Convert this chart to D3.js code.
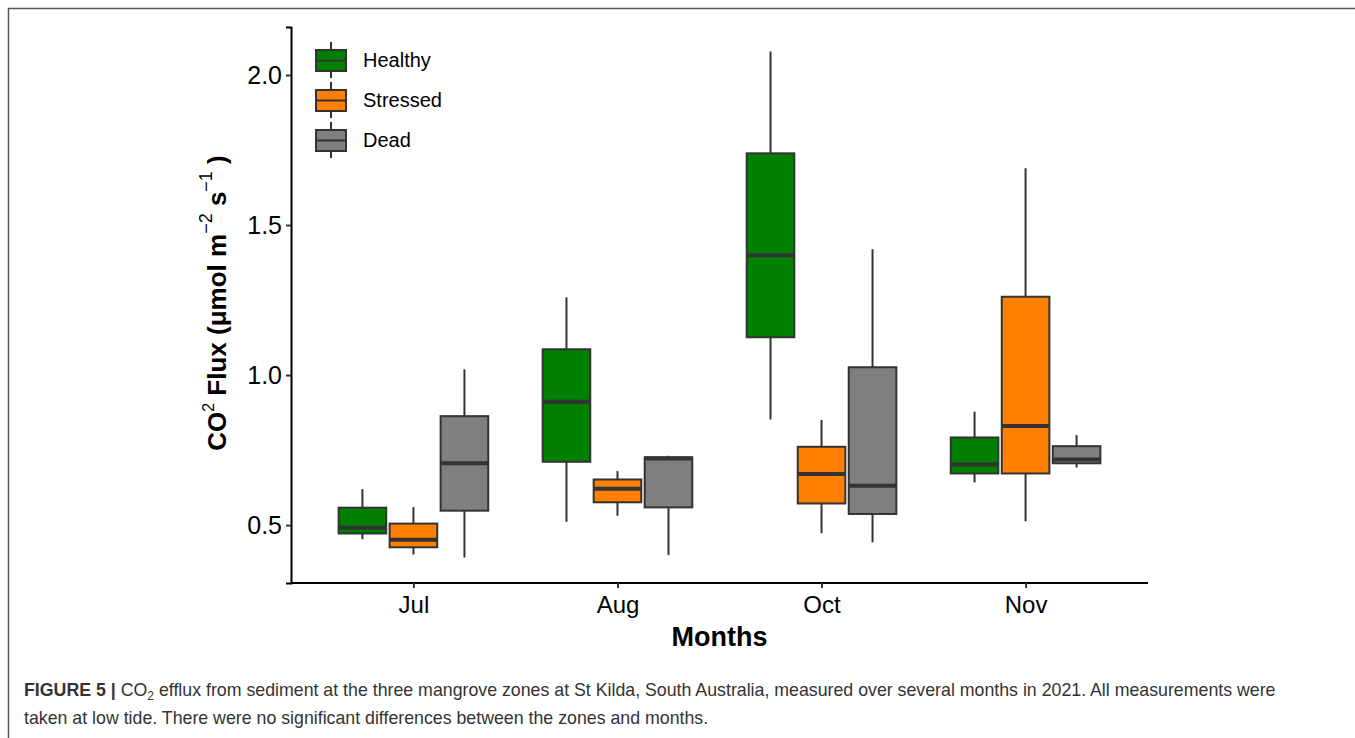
<!DOCTYPE html>
<html>
<head>
<meta charset="utf-8">
<script src="https://cdn.jsdelivr.net/npm/d3@7"></script>
<style>
  body { margin: 0; background: #fff; }
  svg text { font-family: "Liberation Sans", Arial, sans-serif; }
</style>
</head>
<body>
<div id="canvas"></div>
<script>
// data: [whiskerLow, q1, median, q3, whiskerHigh]
const months = ["Jul", "Aug", "Oct", "Nov"];
const zones = ["Healthy", "Stressed", "Dead"];
const colors = ["#007f00", "#ff7f00", "#7f7f7f"];
const yTicks = [0.5, 1.0, 1.5, 2.0];

const healthy = [
  [0.453, 0.472, 0.491, 0.558, 0.62],
  [0.511, 0.711, 0.911, 1.086, 1.259],
  [0.852, 1.126, 1.399, 1.739, 2.078],
  [0.642, 0.672, 0.702, 0.792, 0.878]
];
const stressed = [
  [0.402, 0.426, 0.451, 0.505, 0.56],
  [0.531, 0.576, 0.621, 0.652, 0.68],
  [0.473, 0.572, 0.67, 0.761, 0.85],
  [0.513, 0.672, 0.83, 1.261, 1.689]
];
const dead = [
  [0.392, 0.548, 0.706, 0.863, 1.019],
  [0.40, 0.559, 0.722, 0.726, 0.731],
  [0.443, 0.537, 0.631, 1.026, 1.419],
  [0.692, 0.706, 0.719, 0.763, 0.80]
];
const seriesValues = [healthy, stressed, dead];

const width = 1355, height = 738;
const margin = { top: 27, left: 291, bottom: 155, right: 207 };
const iwidth = width - margin.left - margin.right;
const iheight = height - margin.top - margin.bottom;

const svg = d3.select("#canvas").append("svg")
  .attr("width", width)
  .attr("height", height);

// figure frame (open on right / bottom as in the page crop)
svg.append("path")
  .attr("d", `M8.5,${height} V8.5 H${width}`)
  .attr("fill", "none")
  .attr("stroke", "#555")
  .attr("stroke-width", 1.5);

const g = svg.append("g").attr("transform", `translate(${margin.left},${margin.top})`);

const y = d3.scaleLinear().domain([0.307, 2.16]).range([iheight, 0]);

// ggplot-like discrete scale: 0.6 unit expansion on each side
const unit = iwidth / (months.length - 1 + 1.2);
const x = d3.scalePoint().domain(months).range([0.6 * unit, iwidth - 0.6 * unit]);
const dodge = d3.scaleBand().domain(zones).range([-0.375 * unit, 0.375 * unit]);
const boxW = 0.7 / 3 * unit;

// boxes
zones.forEach((z, zi) => {
  const rows = seriesValues[zi].map((v, i) => ({ month: months[i], v }));
  const grp = g.append("g").attr("class", "zone-" + z);
  const cx = d => x(d.month) + dodge(z) + dodge.bandwidth() / 2;

  grp.selectAll("line.whisker").data(rows).enter().append("line")
    .attr("class", "whisker")
    .attr("x1", cx).attr("x2", cx)
    .attr("y1", d => y(d.v[0])).attr("y2", d => y(d.v[4]))
    .attr("stroke", "#333").attr("stroke-width", 2);

  grp.selectAll("rect").data(rows).enter().append("rect")
    .attr("x", d => cx(d) - boxW / 2)
    .attr("width", boxW)
    .attr("y", d => y(d.v[3]))
    .attr("height", d => y(d.v[1]) - y(d.v[3]))
    .attr("fill", colors[zi])
    .attr("stroke", "#333").attr("stroke-width", 2);

  grp.selectAll("line.median").data(rows).enter().append("line")
    .attr("class", "median")
    .attr("x1", d => cx(d) - boxW / 2).attr("x2", d => cx(d) + boxW / 2)
    .attr("y1", d => y(d.v[2])).attr("y2", d => y(d.v[2]))
    .attr("stroke", "#333").attr("stroke-width", 4);
});

// axes
const yAxis = g.append("g")
  .call(d3.axisLeft(y).tickValues(yTicks).tickFormat(d3.format(".1f")).tickSizeOuter(0).tickSize(5).tickPadding(4));
yAxis.select(".domain").attr("stroke", "#000").attr("stroke-width", 2);
yAxis.selectAll(".tick line").attr("stroke", "#333").attr("stroke-width", 2);
yAxis.selectAll(".tick text").attr("font-size", 25).attr("fill", "#000")
  .attr("font-family", "Liberation Sans, Arial, sans-serif");

const xAxis = g.append("g")
  .attr("transform", `translate(0,${iheight})`)
  .call(d3.axisBottom(x).tickSizeOuter(0).tickSize(5).tickPadding(8));
xAxis.select(".domain").attr("d", `M0,0H${iwidth}`).attr("stroke", "#000").attr("stroke-width", 2);
xAxis.selectAll(".tick line").attr("stroke", "#333").attr("stroke-width", 2);
xAxis.selectAll(".tick text").attr("font-size", 24).attr("fill", "#000")
  .attr("font-family", "Liberation Sans, Arial, sans-serif");

// axis titles
svg.append("text")
  .attr("x", margin.left + iwidth / 2)
  .attr("y", 646)
  .attr("text-anchor", "middle")
  .attr("font-size", 27).attr("font-weight", "bold")
  .text("Months");

const yt = svg.append("text")
  .attr("transform", `translate(226,${margin.top + 276}) rotate(-90)`)
  .attr("text-anchor", "middle")
  .attr("font-size", 26).attr("font-weight", "bold");
yt.append("tspan").text("CO");
yt.append("tspan").attr("dy", -12).attr("font-size", 16).attr("font-weight", "normal").text("2");
yt.append("tspan").attr("dy", 12).text(" Flux (μmol m");
yt.append("tspan").attr("dy", -14).attr("font-size", 18).attr("font-weight", "normal").text("−2");
yt.append("tspan").attr("dy", 14).text(" s");
yt.append("tspan").attr("dy", -14).attr("font-size", 18).attr("font-weight", "normal").text("−1");
yt.append("tspan").attr("dy", 14).text(" )");

// legend
const lg = svg.append("g").attr("transform", "translate(316,40)");
zones.forEach((z, i) => {
  const k = lg.append("g").attr("transform", `translate(0,${i * 40})`);
  k.append("line").attr("x1", 15).attr("x2", 15).attr("y1", 2).attr("y2", 38)
    .attr("stroke", "#333").attr("stroke-width", 2);
  k.append("rect").attr("x", 0).attr("y", 10).attr("width", 30).attr("height", 21)
    .attr("fill", colors[i]).attr("stroke", "#333").attr("stroke-width", 2);
  k.append("line").attr("x1", 0).attr("x2", 30).attr("y1", 20.5).attr("y2", 20.5)
    .attr("stroke", "#333").attr("stroke-width", 2);
  k.append("text").attr("x", 47).attr("y", 27).attr("font-size", 20).attr("fill", "#000").text(z);
});

// caption
const cap = svg.append("g").attr("font-size", 17.75).attr("fill", "#333");
const l1 = cap.append("text").attr("x", 24).attr("y", 696);
l1.append("tspan").attr("font-weight", "bold").text("FIGURE 5 | ");
l1.append("tspan").text("CO");
l1.append("tspan").attr("dy", 4).attr("font-size", 12).text("2");
l1.append("tspan").attr("dy", -4).text(" efflux from sediment at the three mangrove zones at St Kilda, South Australia, measured over several months in 2021. All measurements were");
cap.append("text").attr("x", 24).attr("y", 724)
  .text("taken at low tide. There were no significant differences between the zones and months.");
</script>
</body>
</html>
